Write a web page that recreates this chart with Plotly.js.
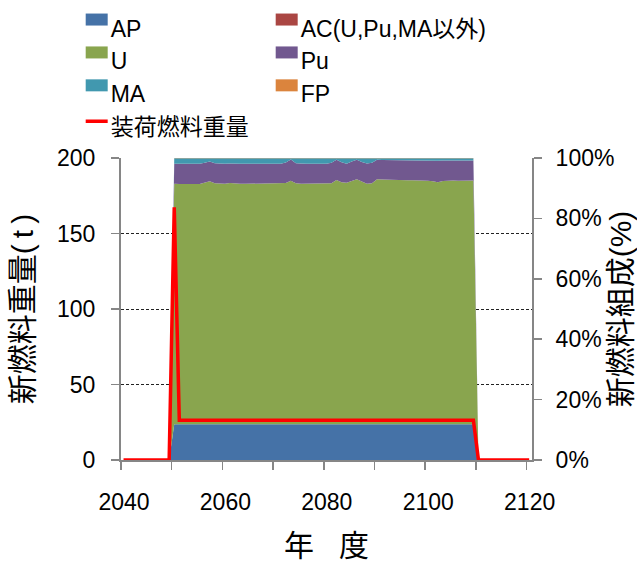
<!DOCTYPE html>
<html><head><meta charset="utf-8">
<script src="https://cdn.plot.ly/plotly-3.0.1.min.js"></script>
<style>html,body{margin:0;padding:0;background:#fff}#chart{width:637px;height:562px}</style>
</head><body><div id="chart"></div>
<script>
const FONT = "'Liberation Sans', 'Noto Sans CJK JP', sans-serif";

// categories
const years = []; for (let y = 2040; y <= 2120; y++) years.push(y);
const compYears = []; for (let y = 2049; y <= 2110; y++) compYears.push(y);

const seriesNames = ['AP', 'AC(U,Pu,MA以外)', 'U', 'Pu', 'MA', 'FP'];
const seriesColors = ['#4572A7', '#AA4643', '#89A54E', '#71588F', '#4198AF', '#DB843D'];
const lineName = '装荷燃料重量';

// composition (%), years 2049..2110
const AP = [0,
 11.8,11.8,11.8,11.8,11.8,11.8,11.8,11.8,11.8,11.8,
 11.8,11.8,11.8,11.8,11.8,11.8,11.8,11.8,11.8,11.8,
 11.8,11.8,11.8,11.8,11.8,11.8,11.8,11.8,11.8,11.8,
 11.8,11.8,11.8,11.8,11.8,11.8,11.8,11.8,11.8,11.8,
 11.8,11.8,11.8,11.8,11.8,11.8,11.8,11.8,11.8,11.8,
 11.8,11.8,11.8,11.8,11.8,11.8,11.8,11.8,11.8,11.8,
 0];
const AC = [0,
 0.05,0.05,0.05,0.05,0.05,0.05,0.05,0.05,0.05,0.05,
 0.05,0.05,0.05,0.05,0.05,0.05,0.05,0.05,0.05,0.05,
 0.05,0.05,0.05,0.05,0.05,0.05,0.05,0.05,0.05,0.05,
 0.05,0.05,0.05,0.05,0.05,0.05,0.05,0.05,0.05,0.05,
 0.05,0.05,0.05,0.05,0.05,0.05,0.05,0.05,0.05,0.05,
 0.05,0.05,0.05,0.05,0.05,0.05,0.05,0.05,0.05,0.05,
 0];
const U = [0,
 79.60,79.55,79.45,79.45,79.50,79.55,79.95,80.45,79.75,79.60,
 79.65,79.90,79.65,79.60,79.60,79.60,79.60,79.60,79.60,79.60,
 79.60,79.65,79.85,80.65,79.75,79.65,79.70,79.75,79.75,79.70,
 79.65,79.75,80.90,80.15,79.95,80.55,81.15,80.35,79.65,79.75,
 81.15,81.05,80.95,80.90,80.85,80.85,80.80,80.75,80.75,80.70,
 80.65,80.45,80.15,80.55,80.70,80.70,80.65,80.65,80.70,80.70,
 0];
const Pu = [0,
 6.62,6.67,6.77,6.77,6.72,6.67,6.60,6.54,6.70,6.62,
 6.57,6.45,6.57,6.62,6.62,6.62,6.62,6.62,6.62,6.62,
 6.62,6.57,6.80,7.00,6.70,6.60,6.55,6.50,6.50,6.55,
 6.60,6.80,6.65,6.60,6.30,6.40,6.40,6.50,6.70,6.80,
 6.40,6.45,6.50,6.55,6.55,6.55,6.55,6.60,6.55,6.60,
 6.65,6.80,7.05,6.75,6.60,6.60,6.65,6.65,6.60,6.60,
 0];
const MA = [0,
 1.83,1.83,1.83,1.83,1.83,1.83,1.50,1.06,1.60,1.83,
 1.83,1.70,1.83,1.83,1.83,1.83,1.83,1.83,1.83,1.83,
 1.83,1.83,1.40,0.40,1.60,1.80,1.80,1.80,1.80,1.80,
 1.80,1.50,0.50,1.30,1.80,1.10,0.50,1.20,1.70,1.50,
 0.50,0.55,0.60,0.60,0.65,0.65,0.70,0.70,0.75,0.75,
 0.75,0.80,0.85,0.75,0.75,0.75,0.75,0.75,0.75,0.75,
 0];
const FP = [0,
 0.10,0.10,0.10,0.10,0.10,0.10,0.10,0.10,0.10,0.10,
 0.10,0.10,0.10,0.10,0.10,0.10,0.10,0.10,0.10,0.10,
 0.10,0.10,0.10,0.10,0.10,0.10,0.10,0.10,0.10,0.10,
 0.10,0.10,0.10,0.10,0.10,0.10,0.10,0.10,0.10,0.10,
 0.10,0.10,0.10,0.10,0.10,0.10,0.10,0.10,0.10,0.10,
 0.10,0.10,0.10,0.10,0.10,0.10,0.10,0.10,0.10,0.10,
 0];

// loaded fuel weight (t), years 2040..2120
const loadedFuel = [
 0,0,0,0,0,0,0,0,0,0,
 167.4,26.3,26.3,26.3,26.3,26.3,26.3,26.3,26.3,26.3,
 26.3,26.3,26.3,26.3,26.3,26.3,26.3,26.3,26.3,26.3,
 26.3,26.3,26.3,26.3,26.3,26.3,26.3,26.3,26.3,26.3,
 26.3,26.3,26.3,26.3,26.3,26.3,26.3,26.3,26.3,26.3,
 26.3,26.3,26.3,26.3,26.3,26.3,26.3,26.3,26.3,26.3,
 26.3,26.3,26.3,26.3,26.3,26.3,26.3,26.3,26.3,26.3,
 0,0,0,0,0,0,0,0,0,0,0];

// tick labels (category boundaries)
const xTickVals = [2039.5, 2049.5, 2059.5, 2069.5, 2079.5, 2089.5, 2099.5, 2109.5, 2119.5];
const xTickText = ['2040', '', '2060', '', '2080', '', '2100', '', '2120'];

const comp = [AP, AC, U, Pu, MA, FP];
const traces = comp.map((vals, i) => ({
  type: 'scatter', mode: 'lines', x: compYears, y: vals,
  stackgroup: 'comp', yaxis: 'y', name: seriesNames[i],
  line: {width: 0, color: seriesColors[i]}, fillcolor: seriesColors[i],
  hoverinfo: 'skip'
}));
traces.push({
  type: 'scatter', mode: 'lines', x: years, y: loadedFuel, yaxis: 'y2',
  name: lineName, line: {color: '#FF0000', width: 3.5}, cliponaxis: false
});

const AXC = '#868686';
const layout = {
  width: 637, height: 562,
  margin: {l: 121, r: 105, t: 158, b: 102, autoexpand: false},
  paper_bgcolor: '#ffffff', plot_bgcolor: 'rgba(0,0,0,0)',
  font: {family: FONT, size: 23, color: '#000'},
  showlegend: true,
  legend: {orientation: 'h', xref: 'paper', yref: 'paper',
    x: -0.1224, xanchor: 'left', y: 1.503, yanchor: 'top',
    entrywidth: 145, font: {family: FONT, size: 23, color: '#000'},
    traceorder: 'normal', bgcolor: 'rgba(0,0,0,0)'},
  xaxis: {range: [2039.5, 2120.56], tickmode: 'array', tickvals: xTickVals, ticktext: xTickText,
    ticks: 'outside', ticklen: 8, tickwidth: 1.5, tickcolor: AXC,
    showline: true, linecolor: AXC, linewidth: 2, showgrid: false, zeroline: false,
    layer: 'below traces', ticklabelstandoff: 12, ticklabelshift: 3,
    title: {text: '年\u00a0\u00a0\u00a0度\u00a0\u00a0', font: {size: 30}, standoff: 22}},
  yaxis: {side: 'right', range: [0, 100], tickmode: 'linear', tick0: 0, dtick: 20, ticksuffix: '%',
    ticks: 'outside', ticklen: 8, tickwidth: 1.5, tickcolor: AXC,
    showline: true, linecolor: AXC, linewidth: 2, showgrid: false, zeroline: false,
    ticklabelstandoff: 9,
    title: {text: '新燃料組成(%)', font: {size: 30}, standoff: 10}},
  yaxis2: {overlaying: 'y', side: 'left', range: [0, 200], tickmode: 'linear', tick0: 0, dtick: 50,
    ticks: 'outside', ticklen: 8, tickwidth: 1.5, tickcolor: AXC,
    showline: true, linecolor: AXC, linewidth: 2, zeroline: false,
    showgrid: true, gridcolor: '#222', gridwidth: 1, griddash: '3px,2px',
    ticklabelstandoff: 11,
    title: {text: '新燃料重量(\u2009t\u2009)', font: {size: 30}, standoff: 15}}
};

Plotly.newPlot('chart', traces, layout, {staticPlot: true}).then(function (gd) {
  // let long legend labels show in full
  gd.querySelectorAll('.legend [clip-path]').forEach(function (el) {
    el.removeAttribute('clip-path');
  });
  // legend swatches styled as small rectangles / short line like the original
  gd.querySelectorAll('.legend .legendfill path').forEach(function (p) {
    p.setAttribute('d', 'M15,-14h22v12h-22z');
  });
  gd.querySelectorAll('.legend .legendlines path').forEach(function (p) {
    p.setAttribute('d', 'M15,-5h22');
  });
});
</script>
</body></html>
